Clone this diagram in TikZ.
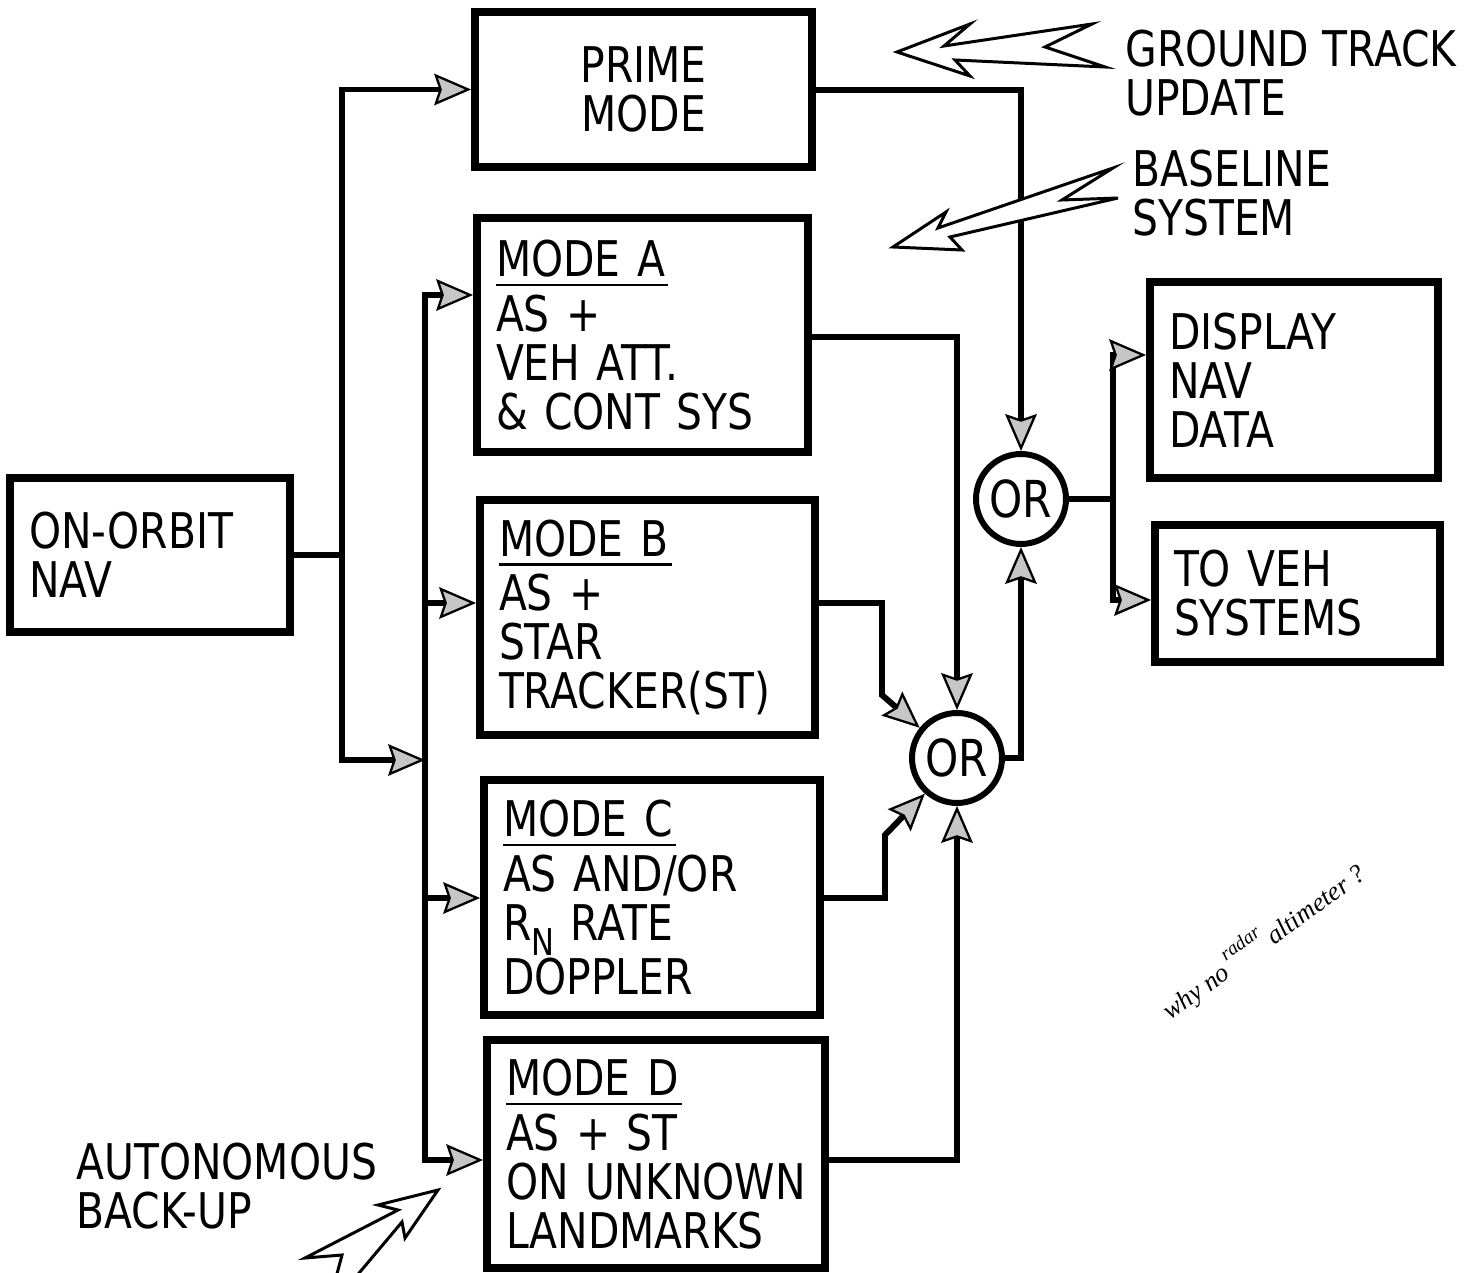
\documentclass[tikz,border=0pt]{standalone}
\usepackage{fontspec}
\setmainfont{DejaVu Sans}[FakeStretch=0.83]
\newfontfamily\notefont{Liberation Serif}
\usetikzlibrary{arrows.meta}
\newcommand\handtext{\fontsize{28}{27.9}\selectfont}
\newcommand\modeul[1]{\vtop{\hbox{#1\kern2pt}\kern3.5pt\hrule height 1.6pt}}
\begin{document}
\begin{tikzpicture}[x=0.02cm,y=-0.02cm,
  box/.style={draw, line width=4.5pt, inner xsep=0.38cm, inner ysep=0pt, align=left, font=\handtext},
  gate/.style={draw, circle, line width=3.4pt, minimum size=1.8cm, inner sep=0pt, font=\fontsize{29}{29}\selectfont},
  conn/.style={line width=3.4pt, line join=miter},
  tipx/.tip={Stealth[length=21pt,width=18pt,inset=3pt,fill=gray!45,line width=1.3pt]},
  arr/.style={-tipx},
  arrs/.style={tipx-tipx},
  lbl/.style={font=\handtext, align=left, inner sep=0pt},
  bigarrow/.style={draw, line width=1.7pt, line join=miter, fill=white}]
\useasboundingbox (0,0) rectangle (1468,1273);
\fill[white] (0,0) rectangle (1468,1273);

% boxes
\node[box, align=center, text width=5.98cm, minimum height=3.1cm] (prime) at (643.5,89.5) {PRIME\\MODE};
\node[box, text width=5.86cm, minimum height=4.68cm] (modeA) at (642.5,335) {\modeul{MODE A}\\[3pt]AS +\\VEH ATT.\\\& CONT SYS};
\node[box, text width=5.94cm, minimum height=4.70cm] (modeB) at (647.5,617.5) {\modeul{MODE B}\\[3pt]AS +\\STAR\\TRACKER(ST)};
\node[box, text width=5.96cm, minimum height=4.70cm] (modeC) at (652,897.5) {\modeul{MODE C}\\[3pt]AS AND/OR\\R\raisebox{-9pt}{\fontsize{21}{21}\selectfont N} RATE\\DOPPLER};
\node[box, text width=6.00cm, minimum height=4.56cm] (modeD) at (656,1154) {\modeul{MODE D}\\[3pt]AS + ST\\ON UNKNOWN\\LANDMARKS};
\node[box, text width=4.84cm, minimum height=3.08cm] (nav) at (150,555) {ON-ORBIT\\NAV};
\node[box, text width=5.0cm, minimum height=3.92cm] (display) at (1294,380) {DISPLAY\\NAV\\DATA};
\node[box, text width=4.94cm, minimum height=2.74cm] (toveh) at (1297.5,593.5) {TO VEH\\SYSTEMS};

% OR gates
\node[gate] (orU) at (1021,499) {OR};
\node[gate] (orL) at (957,758) {OR};

% left buses
\coordinate (j1) at (342,89.5);
\coordinate (j2) at (342,760);
\coordinate (t2) at (425,760);
\coordinate (b2a) at (425,295);
\coordinate (b2d) at (425,1160);
\coordinate (cB) at (425,603);
\coordinate (cC) at (425,898);
\draw[conn] (nav.east) -- (nav.east -| j1);
\draw[conn, arrs] (t2) -- (j2) -- (j1) -- (prime.west);
\draw[conn, arrs] (modeA.west |- b2a) -- (b2a) -- (b2d) -- (modeD.west |- b2d);
\draw[conn, arr] (cB) -- (modeB.west |- cB);
\draw[conn, arr] (cC) -- (modeC.west |- cC);

% right side
\coordinate (pR) at (1021,90);
\coordinate (aR) at (957,337);
\coordinate (bR1) at (882,603);
\coordinate (bR2) at (882,695);
\coordinate (cR1) at (885,898);
\coordinate (cR2) at (885,835);
\coordinate (dR) at (957,1160);
\coordinate (lR) at (1021,758);
\coordinate (oR) at (1113,499);
\coordinate (dsp) at (1113,355);
\coordinate (tv) at (1113,600);
\draw[conn, arr] (prime.east |- pR) -- (pR) -- (orU.north);
\draw[conn, arr] (modeA.east |- aR) -- (aR) -- (orL.north);
\draw[conn, arr] (modeB.east |- bR1) -- (bR1) -- (bR2) -- (orL.141);
\draw[conn, arr] (modeC.east |- cR1) -- (cR1) -- (cR2) -- (orL.228);
\draw[conn, arr] (modeD.east |- dR) -- (dR) -- (orL.south);
\draw[conn, arr] (orL.east) -- (lR) -- (orU.south);
\draw[conn] (orU.east) -- (oR);
\draw[conn, arrs] (display.west |- dsp) -- (dsp) -- (tv) -- (toveh.west |- tv);

% labels
\node[lbl, anchor=north west] (gtu) at (1125,30) {GROUND TRACK\\UPDATE};
\node[lbl, anchor=north west] (bsl) at (1132,150) {BASELINE\\SYSTEM};
\node[lbl, anchor=north west] (aub) at (76,1143) {AUTONOMOUS\\BACK-UP};

% big hollow arrows
\draw[bigarrow] (897,52) -- (970,24) -- (944,46) -- (1092,24) -- (1045,47) -- (1105,67) -- (955,60) -- (970,76) -- cycle;
\draw[bigarrow] (893,247) -- (946,212) -- (938,228) -- (1113,168) -- (1062,200) -- (1118,198) -- (950,237) -- (962,250) -- cycle;
\draw[bigarrow] (438,1190) -- (378,1205) -- (398,1210) -- (305,1258) -- (342,1255) -- (334,1285) -- (349,1285) -- (402,1222) -- (405,1238) -- cycle;

% handwritten note
\node[font=\notefont\itshape\fontsize{15}{15}\selectfont, rotate=36, inner sep=0pt] (note) at (1262,940) {why no\,\raisebox{9pt}{\fontsize{11}{11}\selectfont radar}\,altimeter ?};
\end{tikzpicture}
\end{document}
